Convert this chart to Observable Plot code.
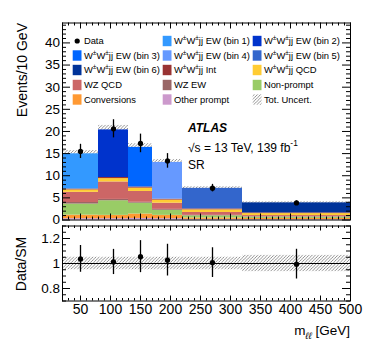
<!DOCTYPE html>
<html><head><meta charset="utf-8">
<script src="https://cdn.jsdelivr.net/npm/d3@7"></script>
<script src="https://cdn.jsdelivr.net/npm/@observablehq/plot@0.6"></script>
<style>
body{margin:0;background:#fff;}
#chart{position:relative;width:374px;height:359px;font-family:"Liberation Sans",Arial,sans-serif;}
#chart svg{position:absolute;left:0;}
</style></head><body><div id="chart"></div>
<script>
// ---------- data ----------
const binEdges = [20, 80, 130, 170, 220, 320, 500];
const dataValues = [15.5, 20.6, 17.3, 13.35, 7.2, 3.85];
const dataErrors = [1.6, 2.05, 2.1, 1.65, 0.85, 0.46];
const otherPrompt = [0.3, 0.3, 0.35, 0.3, 0.15, 0.1];
const conversions = [0.8, 0.75, 1.0, 0.75, 0.3, 0.25];
const nonPrompt = [2.5, 3.3, 2.45, 1.15, 0.5, 0.3];
const wzEW = [0.35, 0.3, 0.2, 0.2, 0.1, 0.05];
const wzQCD = [2.3, 3.95, 2.45, 1.4, 0.65, 0.3];
const ssWWQCD = [0.55, 0.75, 0.75, 0.7, 0.6, 0.45];
const ssWWInt = [0.2, 0.25, 0.25, 0.2, 0.2, 0.15];
const ssWWEW = [7.95, 10.75, 8.95, 8.3, 4.65, 2.27];
const uncFraction = [0.05, 0.05, 0.05, 0.05, 0.05, 0.065];
const xTicks = [50, 100, 150, 200, 250, 300, 350, 400, 450, 500];
const yTicks = [0, 5, 10, 15, 20, 25, 30, 35, 40];
const ratioTicks = [0.8, 1, 1.2];
const legendLabels = [
  "Data", "W^{±}W^{±}jj EW (bin 1)", "W^{±}W^{±}jj EW (bin 2)",
  "W^{±}W^{±}jj EW (bin 3)", "W^{±}W^{±}jj EW (bin 4)", "W^{±}W^{±}jj EW (bin 5)",
  "W^{±}W^{±}jj EW (bin 6)", "W^{±}W^{±}jj Int", "W^{±}W^{±}jj QCD",
  "WZ QCD", "WZ EW", "Non-prompt",
  "Conversions", "Other prompt", "Tot. Uncert."
];
const legendKeys = ["Data","EW1","EW2","EW3","EW4","EW5","EW6","Int","QCD","WZQCD","WZEW","NP","Conv","OP","Unc"];

// ---------- styles ----------
const colorOf = {
  OP: "#cc99cc", Conv: "#ff9933", NP: "#99cc66", WZEW: "#996666", WZQCD: "#cc6666",
  QCD: "#ffcc33", Int: "#993333",
  EW1: "#3399ff", EW2: "#0033cc", EW3: "#0066ff", EW4: "#6699ff", EW5: "#3366cc", EW6: "#003399"
};
const FONT = "'Liberation Sans', Arial, sans-serif";

// ---------- derived tables ----------
const nb = dataValues.length;
const bins = d3.range(nb).map(i => ({x1: binEdges[i], x2: binEdges[i+1], xc: (binEdges[i]+binEdges[i+1])/2}));
const stack = [];
const totals = [];
for (let i = 0; i < nb; i++) {
  const comps = [["OP", otherPrompt[i]], ["Conv", conversions[i]], ["NP", nonPrompt[i]], ["WZEW", wzEW[i]],
                 ["WZQCD", wzQCD[i]], ["QCD", ssWWQCD[i]], ["Int", ssWWInt[i]], ["EW" + (i+1), ssWWEW[i]]];
  let c = 0;
  for (const [k, v] of comps) { stack.push({x1: bins[i].x1, x2: bins[i].x2, y1: c, y2: c + v, process: k}); c += v; }
  totals.push(c);
}
const band = bins.map((b, i) => ({...b, lo: totals[i]*(1-uncFraction[i]), hi: totals[i]*(1+uncFraction[i]), rlo: 1-uncFraction[i], rhi: 1+uncFraction[i]}));
const points = bins.map((b, i) => ({x: b.xc, v: dataValues[i], e: dataErrors[i], r: dataValues[i]/totals[i], re: dataErrors[i]/totals[i]}));
const colorKeys = Object.keys(colorOf);

// ---------- layout ----------
const W = 374, mL = 62, mR = 24;
const mainH = 225, mainT = 22.5, mainB = 5.5;
const ratioTop = 225, ratioH = 134, ratioT = 0.5, ratioB = 58.5;
const areaW = W - mL - mR;
const mainAH = mainH - mainT - mainB;
const ratioAH = ratioH - ratioT - ratioB;

function tickMarks(xMaj, xMin, yMaj, yMin, AH, xLen, yLen) {
  const s = {stroke: "black", strokeWidth: 1};
  return [
    Plot.tickX(xMaj, {x: d => d, insetTop: AH - xLen, ...s}),
    Plot.tickX(xMin, {x: d => d, insetTop: AH - xLen/2, ...s}),
    Plot.tickX(xMaj, {x: d => d, insetBottom: AH - xLen, ...s}),
    Plot.tickX(xMin, {x: d => d, insetBottom: AH - xLen/2, ...s}),
    Plot.tickY(yMaj, {y: d => d, insetRight: areaW - yLen, ...s}),
    Plot.tickY(yMin, {y: d => d, insetRight: areaW - yLen/2, ...s}),
    Plot.tickY(yMaj, {y: d => d, insetLeft: areaW - yLen, ...s}),
    Plot.tickY(yMin, {y: d => d, insetLeft: areaW - yLen/2, ...s})
  ];
}
const xMinor = d3.range(20, 501, 10).filter(v => v % 50 !== 0);
const yMinor = d3.range(0, 45, 1).filter(v => v % 5 !== 0);
const rMinor = d3.range(0.7, 1.3001, 0.05).map(v => +v.toFixed(2)).filter(v => !ratioTicks.includes(v));

const style = {fontFamily: FONT, fontSize: "13.5px", background: "transparent", overflow: "visible", color: "black"};

const main = Plot.plot({
  width: W, height: mainH, marginLeft: mL, marginRight: mR, marginTop: mainT, marginBottom: mainB,
  x: {domain: [20, 500], axis: null},
  y: {domain: [0, 44.5]},
  color: {domain: colorKeys, range: colorKeys.map(k => colorOf[k])},
  style,
  marks: [
    Plot.rect(band, {x1: "x1", x2: "x2", y1: "lo", y2: "hi", fill: "url(#hatchMain)"}),
    Plot.rect(stack, {x1: "x1", x2: "x2", y1: "y1", y2: "y2", fill: "process"}),
    Plot.ruleX(points, {x: "x", y1: d => d.v - d.e, y2: d => d.v + d.e, stroke: "black", strokeWidth: 1.3}),
    Plot.dot(points, {x: "x", y: "v", r: 2.6, fill: "black", stroke: "none"}),
    ...tickMarks(xTicks, xMinor, yTicks, yMinor, mainAH, 6, 8),
    Plot.axisY({ticks: yTicks, tickSize: 0, tickPadding: 2.5, label: null, fontSize: 13.5}),
    Plot.frame({stroke: "black", strokeWidth: 1})
  ]
});

const ratio = Plot.plot({
  width: W, height: ratioH, marginLeft: mL, marginRight: mR, marginTop: ratioT, marginBottom: ratioB,
  x: {domain: [20, 500]},
  y: {domain: [0.7, 1.3]},
  style,
  marks: [
    Plot.rect(band, {x1: "x1", x2: "x2", y1: "rlo", y2: "rhi", fill: "url(#hatchRatio)"}),
    Plot.ruleY([1], {stroke: "black", strokeWidth: 1}),
    Plot.ruleX(points, {x: "x", y1: d => d.r - d.re, y2: d => d.r + d.re, stroke: "black", strokeWidth: 1.3}),
    Plot.dot(points, {x: "x", y: "r", r: 2.6, fill: "black", stroke: "none"}),
    ...tickMarks(xTicks, xMinor, ratioTicks, rMinor, ratioAH, 5, 8),
    Plot.axisX({ticks: xTicks, tickSize: 0, tickPadding: 3, label: null, fontSize: 14}),
    Plot.axisY({ticks: ratioTicks, tickSize: 0, tickPadding: 2.5, label: null, fontSize: 13.5, tickFormat: d => String(d)}),
    Plot.frame({stroke: "black", strokeWidth: 1})
  ]
});

const chart = document.getElementById("chart");
main.style.top = "0px";
ratio.style.top = ratioTop + "px";
chart.appendChild(main);
chart.appendChild(ratio);

function addHatch(svg, id) {
  const p = d3.select(svg).insert("defs", ":first-child").append("pattern")
    .attr("id", id).attr("patternUnits", "userSpaceOnUse").attr("width", 3.2).attr("height", 3.2);
  p.append("path").attr("d", "M0,3.2L3.2,0M-0.8,0.8L0.8,-0.8M2.4,4L4,2.4")
    .attr("stroke", "#777").attr("stroke-width", 0.8).attr("fill", "none");
}
addHatch(main, "hatchMain");
addHatch(ratio, "hatchRatio");

function rich(sel, str, fs) {
  const parts = str.split(/([\^_]\{[^}]*\})/).filter(s => s.length);
  let off = 0;
  for (const p of parts) {
    let target = 0, content = p, size = fs;
    if (p[0] === "^") { target = -0.42*fs; content = p.slice(2, -1); size = 0.7*fs; }
    else if (p[0] === "_") { target = 0.28*fs; content = p.slice(2, -1); size = 0.7*fs; }
    sel.append("tspan").attr("dy", target - off).attr("font-size", size).text(content);
    off = target;
  }
  return sel;
}

// legend
const gm = d3.select(main).append("g").attr("font-family", FONT).attr("fill", "black").attr("text-anchor", "start");
const colSwatchX = [72.7, 162.7, 252.7];
const rowY = [41, 55.5, 70, 85, 99.5];
const lfs = 9.4;
legendKeys.forEach((k, idx) => {
  const c = idx % 3, r = Math.floor(idx / 3);
  const sx = colSwatchX[c], cy = rowY[r];
  if (k === "Data") {
    gm.append("circle").attr("cx", sx + 4.5).attr("cy", cy).attr("r", 2.6).attr("fill", "black");
  } else if (k === "Unc") {
    gm.append("rect").attr("x", sx).attr("y", cy - 5.2).attr("width", 8.8).attr("height", 10.4).attr("fill", "url(#hatchMain)");
  } else {
    gm.append("rect").attr("x", sx).attr("y", cy - 5.2).attr("width", 8.8).attr("height", 10.4).attr("fill", colorOf[k]);
  }
  const t = gm.append("text").attr("x", sx + 11.2).attr("y", cy + 0.36*lfs).attr("font-size", lfs);
  rich(t, legendLabels[idx], lfs);
});

// ATLAS label
gm.append("text").attr("x", 188).attr("y", 131.5).attr("font-size", 12).attr("font-weight", "bold").attr("font-style", "italic").text("ATLAS");
rich(gm.append("text").attr("x", 188).attr("y", 151.5).attr("font-size", 12), "√s = 13 TeV, 139 fb^{-1}", 12);
gm.append("text").attr("x", 188).attr("y", 168.5).attr("font-size", 12).text("SR");

// axis titles
gm.append("text").attr("transform", "translate(26.5,23) rotate(-90)").attr("text-anchor", "end").attr("font-size", 14).text("Events/10 GeV");
const gr = d3.select(ratio).append("g").attr("font-family", FONT).attr("fill", "black").attr("text-anchor", "start");
gr.append("text").attr("transform", `translate(25.5,${264 - ratioTop}) rotate(-90)`).attr("text-anchor", "middle").attr("font-size", 14).text("Data/SM");
const xt = gr.append("text").attr("x", 350).attr("y", 335 - ratioTop).attr("text-anchor", "end").attr("font-size", 13.5);
xt.append("tspan").text("m");
xt.append("tspan").attr("dy", 3.5).attr("font-size", 9.5).attr("font-style", "italic").text("ℓℓ");
xt.append("tspan").attr("dy", -3.5).text(" [GeV]");
</script></body></html>
